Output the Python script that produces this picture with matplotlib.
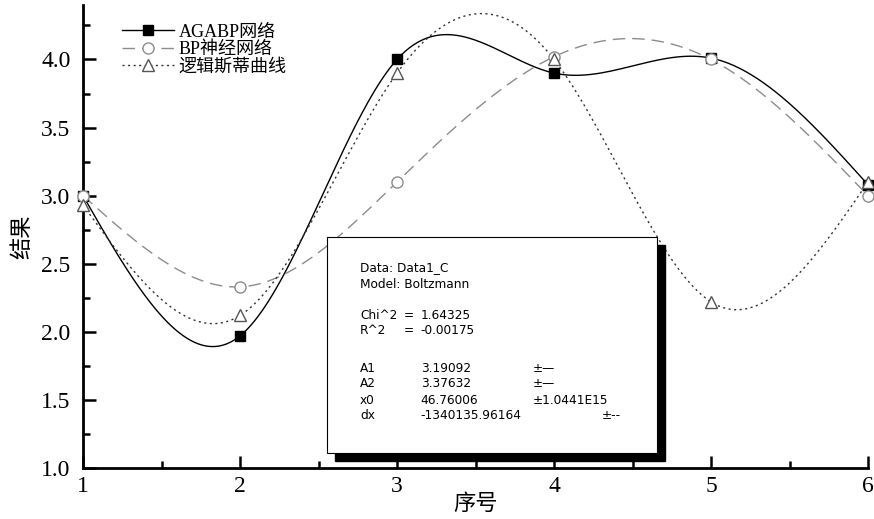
import numpy as np
import matplotlib
matplotlib.use("Agg")
import matplotlib.pyplot as plt
from matplotlib.patches import Rectangle
from matplotlib import transforms
from matplotlib.ticker import MultipleLocator

# data
x_idx = [1, 2, 3, 4, 5, 6]
agabp = [3.0, 1.97, 4.0, 3.9, 4.01, 3.08]
bp_net = [3.0, 2.33, 3.1, 4.02, 4.0, 3.0]
logistic = [2.93, 2.12, 3.9, 4.0, 2.22, 3.1]
series_names = ["AGABP网络", "BP神经网络", "逻辑斯蒂曲线"]

# fit report text: (label, "=", value, error) per row
fit_lines = [
    ("Data: Data1_C", "", "", ""),
    ("Model: Boltzmann", "", "", ""),
    ("Chi^2", "=", "1.64325", ""),
    ("R^2", "=", "-0.00175", ""),
    ("A1", "", "3.19092", "±\u2014"),
    ("A2", "", "3.37632", "±\u2014"),
    ("x0", "", "46.76006", "±1.0441E15"),
    ("dx", "", "-1340135.96164", "±--"),
]

plt.rcParams['font.family'] = ['Liberation Serif', 'Noto Sans CJK SC']


def natural_spline(x, y, n=400):
    # natural cubic spline through the points, only for drawing the smooth curve
    x = np.asarray(x, float)
    y = np.asarray(y, float)
    k = len(x)
    h = np.diff(x)
    A = np.zeros((k, k))
    r = np.zeros(k)
    A[0, 0] = A[-1, -1] = 1
    for i in range(1, k - 1):
        A[i, i - 1] = h[i - 1]
        A[i, i] = 2 * (h[i - 1] + h[i])
        A[i, i + 1] = h[i]
        r[i] = 3 * ((y[i + 1] - y[i]) / h[i] - (y[i] - y[i - 1]) / h[i - 1])
    c = np.linalg.solve(A, r)
    xs = np.linspace(x[0], x[-1], n)
    ys = np.empty_like(xs)
    for j, xv in enumerate(xs):
        i = min(np.searchsorted(x, xv, side='right') - 1, k - 2)
        dx = xv - x[i]
        b = (y[i + 1] - y[i]) / h[i] - h[i] * (2 * c[i] + c[i + 1]) / 3
        d = (c[i + 1] - c[i]) / (3 * h[i])
        ys[j] = y[i] + b * dx + c[i] * dx ** 2 + d * dx ** 3
    return xs, ys


fig = plt.figure(figsize=(8.74, 5.19), dpi=100)
ax = fig.add_axes([83 / 874, 51 / 519, 785 / 874, 463 / 519])

styles = [
    dict(color='black', ls='-', lw=1.0, marker='s', mfc='black', mec='black', ms=7),
    dict(color='#8c8c8c', ls=(0, (9, 5)), lw=1.0, marker='o', mfc='white', mec='#8c8c8c', ms=8),
    dict(color='#333333', ls=(0, (1.5, 2.5)), lw=1.0, marker='^', mfc='white', mec='#555555', ms=9),
]

for ys, name, st in zip([agabp, bp_net, logistic], series_names, styles):
    sx, sy = natural_spline(x_idx, ys)
    ax.plot(sx, sy, color=st['color'], ls=st['ls'], lw=st['lw'], zorder=2)
    ax.plot(x_idx, ys, ls='none', marker=st['marker'], mfc=st['mfc'], mec=st['mec'],
            ms=st['ms'], mew=1.0, clip_on=False, zorder=3)
    ax.plot([], [], color=st['color'], ls=st['ls'], lw=st['lw'], marker=st['marker'],
            mfc=st['mfc'], mec=st['mec'], ms=st['ms'], label=name)

ax.set_xlim(1, 6)
ax.set_ylim(1.0, 4.4)
ax.xaxis.set_major_locator(MultipleLocator(1))
ax.xaxis.set_minor_locator(MultipleLocator(0.5))
ax.yaxis.set_minor_locator(MultipleLocator(0.25))
ax.set_yticks([1.0, 1.5, 2.0, 2.5, 3.0, 3.5, 4.0])
ax.set_yticklabels(["1.0", "1.5", "2.0", "2.5", "3.0", "3.5", "4.0"])
ax.tick_params(which='both', direction='in', width=1.8, labelsize=17)
ax.tick_params(which='major', length=9, pad=9)
ax.tick_params(axis='x', which='major', pad=6)
ax.tick_params(which='minor', length=5)
for s in ['top', 'right']:
    ax.spines[s].set_visible(False)
for s in ['left', 'bottom']:
    ax.spines[s].set_linewidth(2)

ax.set_xlabel("序号", fontsize=16, labelpad=-2)
ax.set_ylabel("结果", fontsize=16, labelpad=6)

leg = ax.legend(loc='upper left', bbox_to_anchor=(0.0497, 0.96), frameon=False,
                fontsize=13, handlelength=2.9, handletextpad=0.25, labelspacing=0.02,
                borderpad=0, borderaxespad=0)

# fit result box with black shadow
bx0, bx1, by0, by1 = 2.554, 4.656, 1.11, 2.695
shadow_tr = transforms.offset_copy(ax.transData, fig=fig, x=8, y=-8, units='dots')
ax.add_patch(Rectangle((bx0, by0), bx1 - bx0, by1 - by0, transform=shadow_tr,
                       facecolor='black', edgecolor='black', zorder=5))
ax.add_patch(Rectangle((bx0, by0), bx1 - bx0, by1 - by0, facecolor='white',
                       edgecolor='black', lw=0.8, zorder=6))

cols = [2.765, 3.045, 3.15, 3.866]
row_y = [2.47, 2.35, 2.123, 2.013, 1.734, 1.617, 1.499, 1.382]
for yy, row in zip(row_y, fit_lines):
    for k, (cx, txt) in enumerate(zip(cols, row)):
        if not txt:
            continue
        if txt == "±--":
            cx = 4.306
        ax.text(cx, yy, txt, fontsize=8.7, family='DejaVu Sans',
                va='center', ha='left', zorder=7)

fig.savefig("out.png", dpi=100)
